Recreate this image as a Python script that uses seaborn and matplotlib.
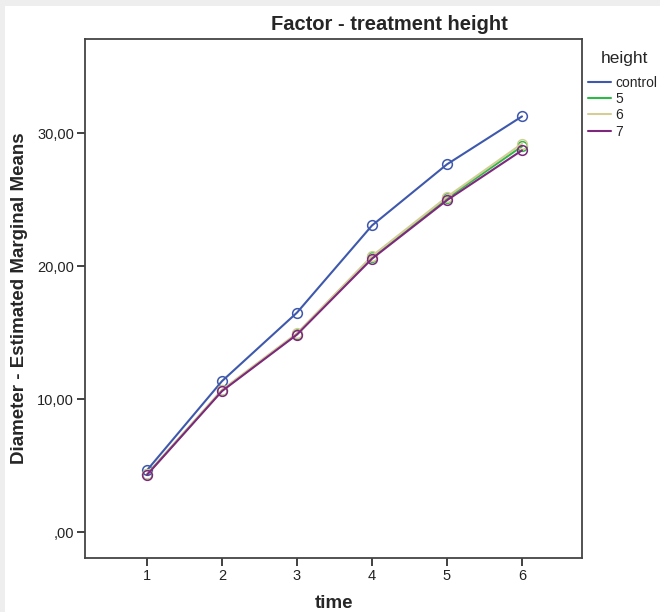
import numpy as np
import pandas as pd
import matplotlib
matplotlib.use('Agg')
import matplotlib.pyplot as plt
import seaborn as sns

# ================= 数据 =================
time_points = [1, 2, 3, 4, 5, 6]
height_levels = ['control', '5', '6', '7']
mean_control = [4.65, 11.35, 16.5, 23.05, 27.65, 31.25]
mean_h5 = [4.35, 10.65, 14.9, 20.7, 25.1, 29.0]
mean_h6 = [4.35, 10.7, 14.95, 20.75, 25.2, 29.2]
mean_h7 = [4.3, 10.6, 14.85, 20.55, 24.95, 28.7]
y_ticks = [0, 10, 20, 30]
y_tick_labels = [',00', '10,00', '20,00', '30,00']

colors = {'control': '#3E58AC', '5': '#2EB848', '6': '#D3CE97', '7': '#7C287D'}

df = pd.DataFrame({
    'time': time_points * 4,
    'height': np.repeat(height_levels, len(time_points)),
    'mean': mean_control + mean_h5 + mean_h6 + mean_h7,
})

# ================= 绘图 =================
sns.set_style("white")
plt.rcParams['font.family'] = ['Liberation Sans', 'DejaVu Sans']

fig = plt.figure(figsize=(6.6, 6.12), dpi=100)
fig.patch.set_facecolor('#eeeeee')
# white panel inside the light gray border
fig.patches.append(plt.Rectangle((5 / 660, 0), 1, 1 - 6 / 612, transform=fig.transFigure,
                                 facecolor='white', edgecolor='none', zorder=-1))

ax = fig.add_axes([85 / 660, 1 - 558 / 612, 497 / 660, 519 / 612])
sns.lineplot(data=df, x='time', y='mean', hue='height', hue_order=height_levels,
             palette=colors, marker='o', markersize=7, linewidth=1.5, ax=ax, legend=False)
for line in ax.lines:
    c = line.get_color()
    line.set_markerfacecolor('none')
    line.set_markeredgecolor(c)
    line.set_markeredgewidth(1.1)

ax.set_xlim(0.173, 6.8)
ax.set_ylim(-1.95, 37.07)
ax.set_xticks(time_points)
ax.set_xticklabels([str(t) for t in time_points])
ax.set_yticks(y_ticks)
ax.set_yticklabels(y_tick_labels)
ax.tick_params(axis='both', direction='out', length=6, width=1.3, color='#333333',
               labelsize=10.5, labelcolor='#222222', pad=2, bottom=True, left=True)
for sp in ax.spines.values():
    sp.set_color('#444444')
    sp.set_linewidth(1.3)

ax.set_xlabel('')
ax.set_ylabel('')
fig.text(334 / 660, 1 - 604 / 612, 'time', ha='center', va='center',
         fontsize=13.5, fontweight='bold')
fig.text(20 / 660, 1 - 298 / 612, 'Diameter - Estimated Marginal Means', ha='center',
         va='center', rotation=90, fontsize=13.5, fontweight='bold')
fig.text(389 / 660, 1 - 24 / 612, 'Factor - treatment height', ha='center', va='center',
         fontsize=14.5, fontweight='bold')

# legend outside on the right; title drawn separately for a wider gap
fig.text(624 / 660, 1 - 58 / 612, 'height', ha='center', va='center', fontsize=12.5)
handles = [plt.Line2D([], [], color=colors[h], linewidth=1.5) for h in height_levels]
leg = fig.legend(handles, height_levels, loc='upper left',
                 bbox_to_anchor=(582 / 660, 1 - 70 / 612), frameon=False,
                 fontsize=10, handlelength=1.7, handletextpad=0.3,
                 labelspacing=0.17, borderaxespad=0)

fig.savefig('out.png', dpi=100, facecolor=fig.get_facecolor())
